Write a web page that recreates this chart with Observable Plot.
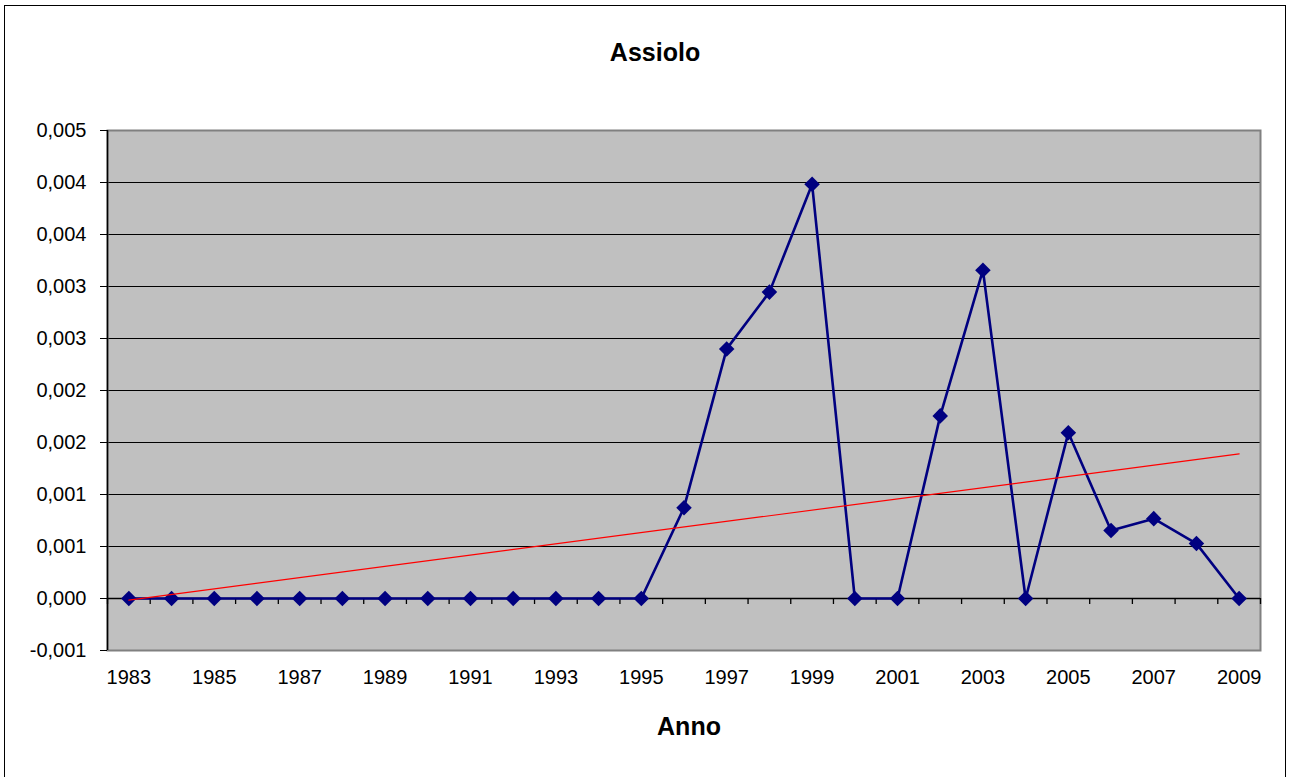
<!DOCTYPE html>
<html>
<head>
<meta charset="utf-8">
<script src="https://cdn.jsdelivr.net/npm/d3@7"></script>
<script src="https://cdn.jsdelivr.net/npm/@observablehq/plot@0.6"></script>
<style>
  html, body { margin: 0; padding: 0; background: #fff; }
  #wrap { position: relative; width: 1290px; height: 777px; overflow: hidden; }
  #border { position: absolute; left: 4px; top: 5px; width: 1282px; height: 800px; border: 1.5px solid #000; box-sizing: border-box; pointer-events: none; }
  svg { position: absolute; left: 0; top: 0; overflow: visible; }
</style>
</head>
<body>
<div id="wrap"><div id="border"></div></div>
<script>
const years = [1983,1984,1985,1986,1987,1988,1989,1990,1991,1992,1993,1994,1995,1996,1997,1998,1999,2000,2001,2002,2003,2004,2005,2006,2007,2008,2009];
const values = [0,0,0,0,0,0,0,0,0,0,0,0,0,0.000873,0.0024,0.002946,0.003983,0,0,0.001756,0.003157,0,0.001593,0.000653,0.000768,0.000528,0];
const trendYears = [1983, 2009];
const trendValues = [-0.000015, 0.00139];
const yTicks = [-0.0005,0,0.0005,0.001,0.0015,0.002,0.0025,0.003,0.0035,0.004,0.0045];
const yTickLabels = ["-0,001","0,000","0,001","0,001","0,002","0,002","0,003","0,003","0,004","0,004","0,005"];
const xTickYears = [1983,1985,1987,1989,1991,1993,1995,1997,1999,2001,2003,2005,2007,2009];
const title = "Assiolo";
const xTitle = "Anno";

const data = years.map((y, i) => ({year: y, value: values[i]}));
const trend = trendYears.map((y, i) => ({year: y, value: trendValues[i]}));
const xMin = d3.min(years) - 0.5, xMax = d3.max(years) + 0.5;
const boundaries = years.map(y => y - 0.5).concat([xMax]);
const labelMap = new Map(yTicks.map((t, i) => [t, yTickLabels[i]]));
const innerTicks = yTicks.slice(1, -1);

const font = "'Liberation Sans', Arial, sans-serif";

const chart = Plot.plot({
  width: 1290,
  height: 777,
  marginLeft: 107,
  marginRight: 30,
  marginTop: 130,
  marginBottom: 127,
  style: {fontFamily: font, background: "transparent", color: "#000"},
  x: {type: "linear", domain: [xMin, xMax]},
  y: {domain: [yTicks[0], yTicks[yTicks.length - 1]]},
  marks: [
    Plot.frame({fill: "#c0c0c0", stroke: null}),
    Plot.ruleY(innerTicks, {stroke: "#000", strokeWidth: 1.2}),
    Plot.frame({stroke: "#808080", strokeWidth: 2}),
    Plot.ruleY([0], {stroke: "#000", strokeWidth: 1.5}),
    Plot.ruleX(boundaries, {y1: () => 0, y2: () => 0, insetBottom: -6, stroke: "#000", strokeWidth: 1.3}),
    Plot.ruleX([xMin], {stroke: "#000", strokeWidth: 1.5}),
    Plot.axisY(yTicks, {tickSize: 7, tickPadding: 14, tickFormat: d => labelMap.get(d), fontSize: 20, label: null, stroke: "#000"}),
    Plot.axisX(xTickYears, {tickSize: 0, tickPadding: 19, tickFormat: d => String(d), fontSize: 20, label: null}),
    Plot.line(data, {x: "year", y: "value", stroke: "#000080", strokeWidth: 2.6}),
    Plot.dot(data, {x: "year", y: "value", symbol: "diamond2", r: 7, fill: "#000080", stroke: null}),
    Plot.line(trend, {x: "year", y: "value", stroke: "#ff0000", strokeWidth: 1.2}),
    Plot.text([title], {frameAnchor: "top", dy: -78, dx: -29, text: d => d, fontSize: 25, fontWeight: "bold", lineAnchor: "middle"}),
    Plot.text([xTitle], {frameAnchor: "bottom", dy: 76, dx: 5, text: d => d, fontSize: 25, fontWeight: "bold", lineAnchor: "middle"})
  ]
});
document.getElementById("wrap").prepend(chart);
</script>
</body>
</html>
